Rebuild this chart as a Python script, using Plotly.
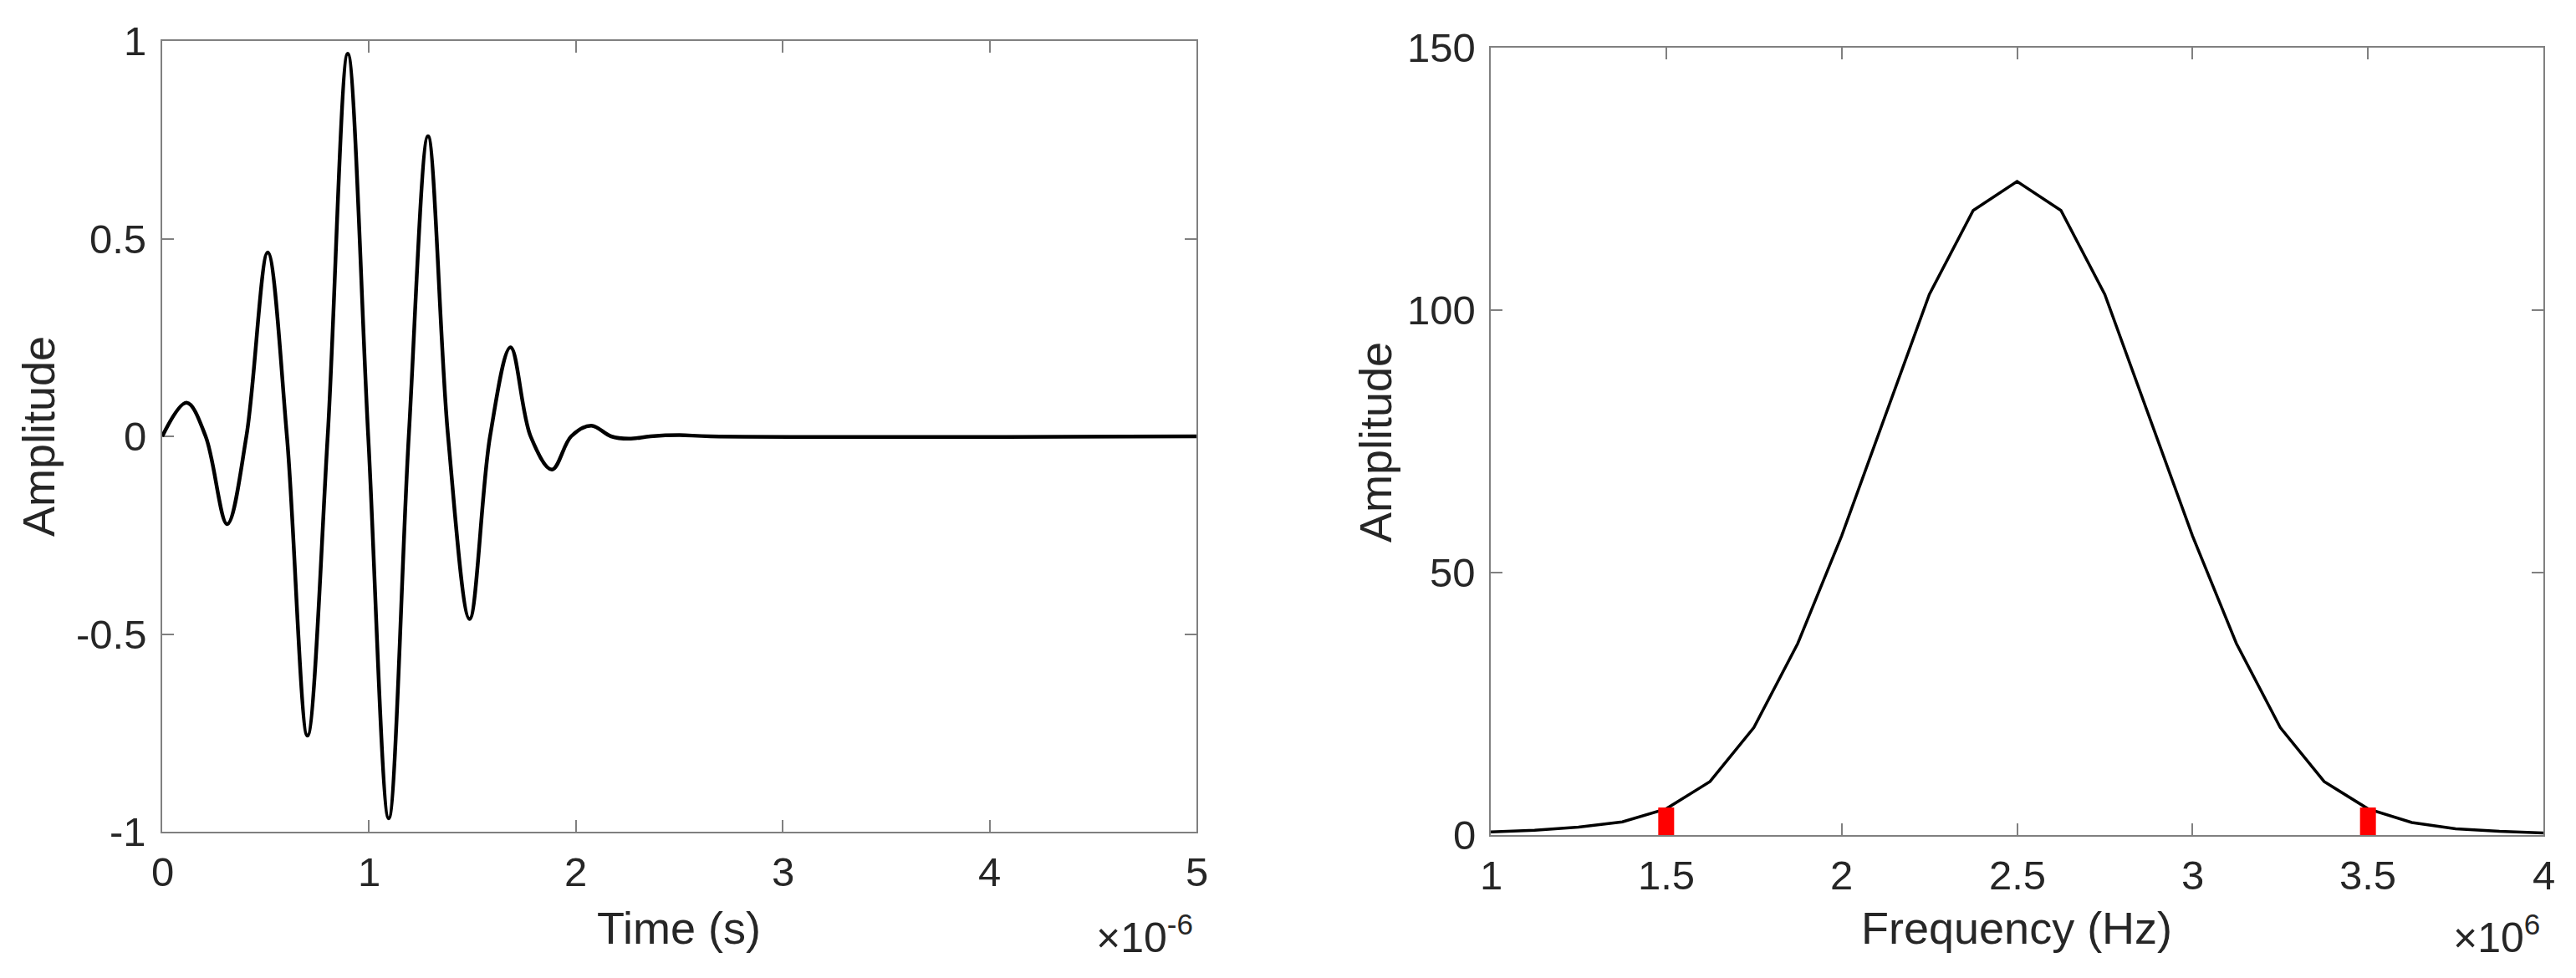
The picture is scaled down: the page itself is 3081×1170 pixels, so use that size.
import plotly.graph_objects as go

W, H = 3081, 1170
OFF = 8  # default body margin of the written html page
FW, FH = W - 2 * OFF, H - 2 * OFF
FONT = "Liberation Sans, Arial, Helvetica, sans-serif"
TXT = "#262626"
AXC = "#808080"

# left panel: time-domain pulse (time in microseconds)
time_us = [0, 0.118, 0.21, 0.314, 0.407, 0.510, 0.603, 0.702, 0.800, 0.897,
           0.996, 1.095, 1.192, 1.285, 1.382, 1.486, 1.585, 1.684, 1.781, 1.884,
           1.977, 2.074, 2.17, 2.256, 2.36, 2.5, 2.65, 5.0]
pulse_amp = [0, 0.085, 0, -0.222, 0, 0.465, 0, -0.757, 0, 0.968,
             0, -0.966, 0, 0.759, 0, -0.462, 0, 0.225, 0, -0.084,
             0, 0.027, 0, -0.006, 0, 0.003, 0, 0]

# right panel: amplitude spectrum (frequency in MHz)
freq_mhz = [1.0, 1.125, 1.25, 1.375, 1.5, 1.625, 1.75, 1.875, 2.0, 2.125,
            2.25, 2.375, 2.5, 2.625, 2.75, 2.875, 3.0, 3.125, 3.25, 3.375,
            3.5, 3.625, 3.75, 3.875, 4.0]
spec_amp = [0.6, 0.9, 1.5, 2.5, 5.0, 10.2, 20.5, 36.5, 57, 80,
            103, 119, 124.5, 119, 103, 80, 57, 36.5, 20.5, 10.2,
            5.0, 2.4, 1.2, 0.7, 0.4]

# red band-edge markers
band_mhz = [1.5, 3.5]
band_amp = [5.25, 5.25]

time_ticks = [0, 1, 2, 3, 4, 5]
amp_ticks = [-1, -0.5, 0, 0.5, 1]
freq_ticks = [1, 1.5, 2, 2.5, 3, 3.5, 4]
spec_ticks = [0, 50, 100, 150]


# page pixel -> paper fraction
def px(x):
    return (x - OFF) / FW


def py(y):
    return (FH - (y - OFF)) / FH


def lbl(v):
    return f"{v:g}"


fig = go.Figure()
fig.add_trace(go.Scatter(
    x=[t * 1e-6 for t in time_us], y=pulse_amp, mode="lines",
    line=dict(color="black", width=4.5, shape="spline", smoothing=1.0),
    xaxis="x", yaxis="y", showlegend=False,
))
fig.add_trace(go.Scatter(
    x=[f * 1e6 for f in freq_mhz], y=spec_amp, mode="lines",
    line=dict(color="black", width=3.5),
    xaxis="x2", yaxis="y2", showlegend=False,
))

# vertical red bars drawn over the curve
bx, by = [], []
for f, a in zip(band_mhz, band_amp):
    bx += [f * 1e6, f * 1e6, None]
    by += [0, a, None]
fig.add_trace(go.Scatter(
    x=bx, y=by, mode="lines", line=dict(color="red", width=19),
    xaxis="x2", yaxis="y2", showlegend=False,
))

axis_common = dict(
    ticks="inside", ticklen=14, tickwidth=2, tickcolor=AXC,
    showline=True, linecolor=AXC, linewidth=2, mirror="ticks",
    showgrid=False, zeroline=False, layer="below traces",
    showticklabels=False,
)

fig.update_layout(
    width=FW, height=FH,
    margin=dict(l=0, r=0, t=0, b=0),
    paper_bgcolor="white", plot_bgcolor="white",
    font=dict(family=FONT, color=TXT),
    xaxis=dict(domain=[px(194), px(1431)], range=[0, 5e-6], anchor="y",
               tickvals=[t * 1e-6 for t in time_ticks], **axis_common),
    yaxis=dict(domain=[py(995), py(49)], range=[-1, 1], anchor="x",
               tickvals=amp_ticks, **axis_common),
    xaxis2=dict(domain=[px(1783), px(3042)], range=[1e6, 4e6], anchor="y2",
                tickvals=[f * 1e6 for f in freq_ticks], **axis_common),
    yaxis2=dict(domain=[py(999), py(57)], range=[0, 150], anchor="x2",
                tickvals=spec_ticks, **axis_common),
)

tick_font = dict(family=FONT, size=49, color=TXT)
label_font = dict(family=FONT, size=54, color=TXT)
exp_font = dict(family=FONT, size=50, color=TXT)

# tick labels placed like MATLAB's (plain hyphen minus, fixed gaps)
for t in time_ticks:
    fig.add_annotation(x=t * 1e-6, xref="x", y=py(1043), yref="paper",
                       text=lbl(t), font=tick_font, showarrow=False,
                       xanchor="center", yanchor="middle")
for a in amp_ticks:
    fig.add_annotation(x=px(177), xref="paper", y=a, yref="y",
                       text=lbl(a), font=tick_font, showarrow=False,
                       xanchor="right", yanchor="middle")
for f in freq_ticks:
    fig.add_annotation(x=f * 1e6, xref="x2", y=py(1047), yref="paper",
                       text=lbl(f), font=tick_font, showarrow=False,
                       xanchor="center", yanchor="middle")
for s in spec_ticks:
    fig.add_annotation(x=px(1767), xref="paper", y=s, yref="y2",
                       text=lbl(s), font=tick_font, showarrow=False,
                       xanchor="right", yanchor="middle")

notes = [
    dict(text="Amplitude", x=px(46), y=py(522), textangle=-90, font=label_font),
    dict(text="Time (s)", x=px(812), y=py(1110), font=label_font),
    dict(text="Amplitude", x=px(1645), y=py(529), textangle=-90, font=label_font),
    dict(text="Frequency (Hz)", x=px(2412), y=py(1110), font=label_font),
]
for n in notes:
    fig.add_annotation(xref="paper", yref="paper", showarrow=False,
                       xanchor="center", yanchor="middle", **n)

fig.add_annotation(text="×10<sup>-6</sup>", x=px(1429), y=py(1152),
                   xref="paper", yref="paper", showarrow=False,
                   xanchor="right", yanchor="bottom", font=exp_font)
fig.add_annotation(text="×10<sup>6</sup>", x=px(3040), y=py(1152),
                   xref="paper", yref="paper", showarrow=False,
                   xanchor="right", yanchor="bottom", font=exp_font)

fig.write_html("out.html")
